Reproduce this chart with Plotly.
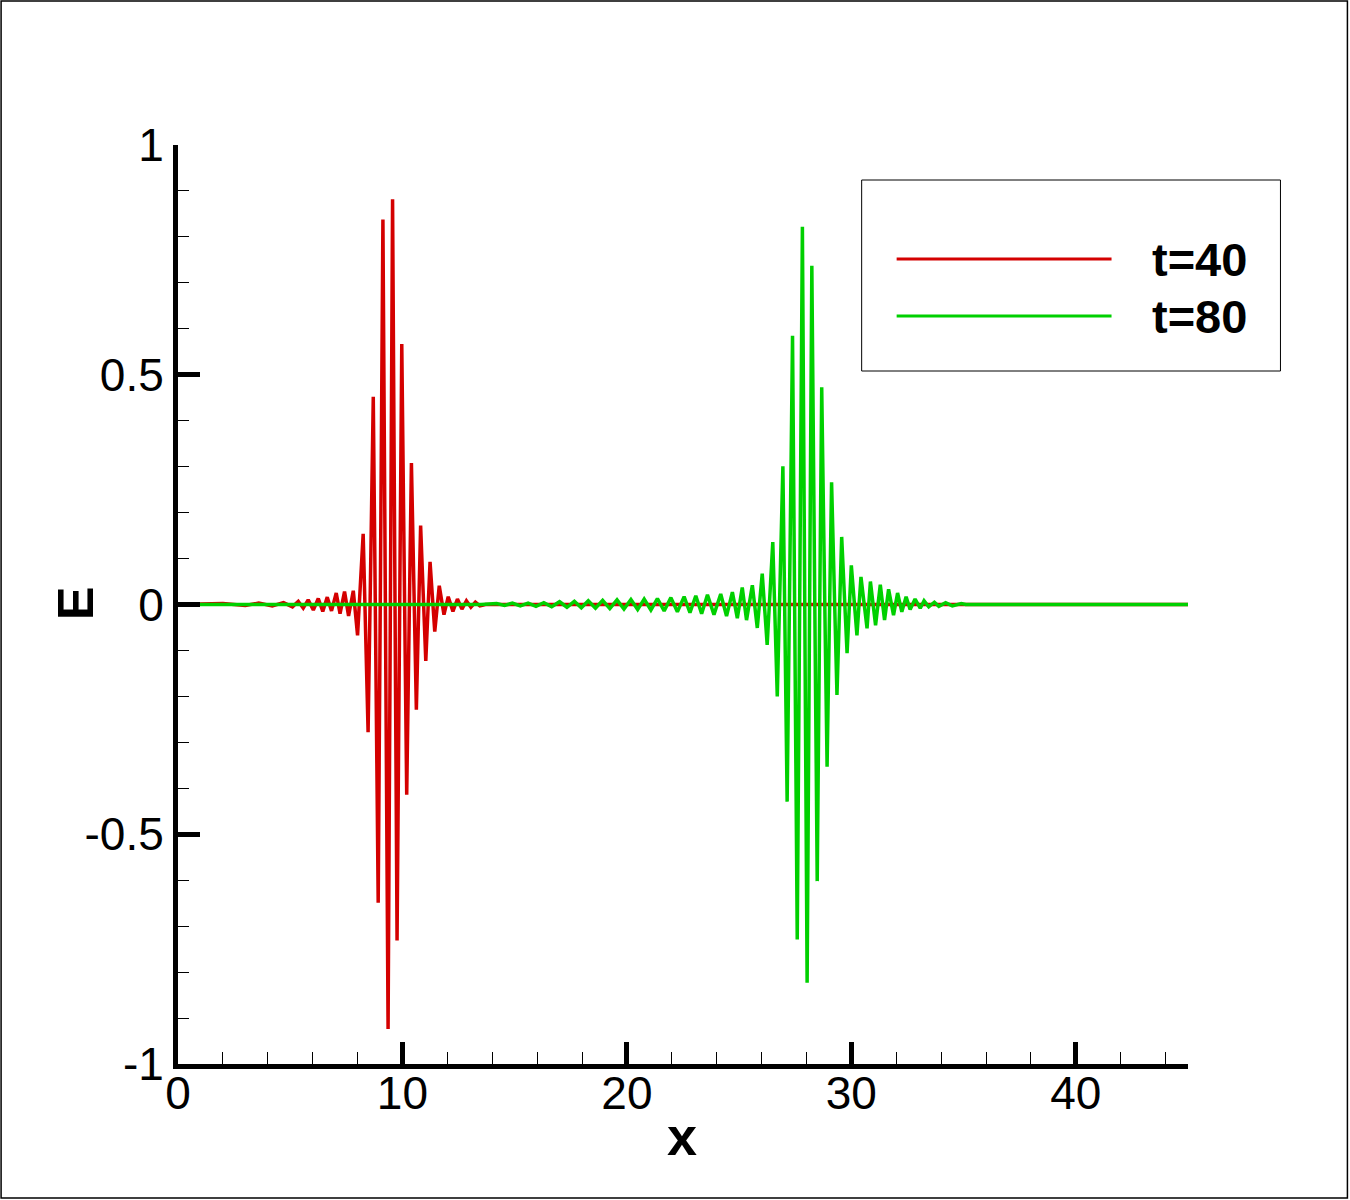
import plotly.graph_objects as go

# ---- data ----
red_x = [0.0, 2.0, 3.0, 3.6, 4.2, 4.7, 5.1, 5.36, 5.58, 5.8, 6.03, 6.25, 6.45, 6.65, 6.84,
         7.05, 7.22, 7.42, 7.60, 7.81, 8.00, 8.25, 8.47, 8.70, 8.92, 9.13, 9.36, 9.56, 9.76,
         9.97, 10.19, 10.40, 10.62, 10.81, 11.04, 11.23, 11.44, 11.64, 11.85, 12.04, 12.25,
         12.45, 12.65, 12.85, 13.05, 13.25, 13.45, 13.7, 45.0]
red_y = [0.0, 0.002, -0.002, 0.003, -0.003, 0.004, -0.005, 0.007, -0.008, 0.010, -0.012, 0.013,
         -0.015, 0.016, -0.014, 0.025, -0.020, 0.028, -0.025, 0.030, -0.067, 0.154, -0.278,
         0.452, -0.649, 0.838, -0.924, 0.882, -0.731, 0.567, -0.414, 0.308, -0.229, 0.172,
         -0.123, 0.093, -0.059, 0.041, -0.022, 0.017, -0.015, 0.012, -0.010, 0.008, -0.006,
         0.005, -0.003, 0.0, 0.0]

green_x = [0.0, 13.5, 14.2, 14.55, 14.9, 15.25, 15.6, 15.95, 16.3, 16.65, 17.0, 17.33, 17.66,
           17.97, 18.28, 18.6, 18.92, 19.24, 19.56, 19.87, 20.18, 20.48, 20.77, 21.07, 21.36,
           21.66, 21.96, 22.25, 22.55, 22.81, 23.07, 23.33, 23.59, 23.88, 24.18, 24.44, 24.70,
           24.92, 25.14, 25.33, 25.59, 25.81, 26.03, 26.25, 26.50, 26.70, 26.95, 27.14, 27.38,
           27.59, 27.82, 28.03, 28.24, 28.48, 28.68, 28.92, 29.12, 29.36, 29.57, 29.81, 30.00,
           30.25, 30.43, 30.70, 30.85, 31.08, 31.29, 31.48, 31.66, 31.88, 32.06, 32.25, 32.44,
           32.62, 32.84, 33.07, 33.24, 33.45, 33.7, 33.9, 34.2, 34.5, 34.9, 35.1, 45.0]
green_y = [0.0, 0.0, 0.002, -0.002, 0.003, -0.003, 0.003, -0.004, 0.004, -0.005, 0.006, -0.006,
           0.007, -0.007, 0.008, -0.008, 0.009, -0.009, 0.010, -0.010, 0.011, -0.011, 0.012,
           -0.012, 0.013, -0.014, 0.015, -0.016, 0.017, -0.018, 0.019, -0.020, 0.021, -0.022,
           0.023, -0.025, 0.027, -0.030, 0.037, -0.034, 0.042, -0.051, 0.067, -0.088, 0.136,
           -0.200, 0.301, -0.429, 0.585, -0.729, 0.822, -0.823, 0.737, -0.602, 0.473, -0.353,
           0.266, -0.197, 0.147, -0.106, 0.085, -0.067, 0.060, -0.052, 0.050, -0.045, 0.043,
           -0.034, 0.033, -0.023, 0.025, -0.016, 0.017, -0.011, 0.012, -0.008, 0.008, -0.005,
           0.005, -0.004, 0.004, -0.003, 0.002, 0.0, 0.0]

series_names = ["t=40", "t=80"]
series_colors = ["#D40000", "#00D000"]

x_ticks = [0, 10, 20, 30, 40]
y_ticks = [-1, -0.5, 0, 0.5, 1]
y_tick_text = ["-1", "-0.5", "0", "0.5", "1"]

# ---- layout geometry (pixels) ----
W, H = 1350, 1200
L, R, T, B = 178, 1188.5, 145, 1064
pw, ph = R - L, B - T


def px(xp):
    return (xp - L) / pw


def py(yp):
    return (B - yp) / ph


FONT = "Liberation Sans, Arial, sans-serif"

fig = go.Figure()
fig.add_trace(go.Scatter(x=red_x, y=red_y, mode="lines", name=series_names[0],
                         line=dict(color=series_colors[0], width=3.5), showlegend=False))
fig.add_trace(go.Scatter(x=green_x, y=green_y, mode="lines", name=series_names[1],
                         line=dict(color=series_colors[1], width=3.5), showlegend=False))

axis_common = dict(showgrid=False, zeroline=False, showline=True, linewidth=5, linecolor="black",
                   ticks="inside", ticklen=22, tickwidth=5, tickcolor="black",
                   tickfont=dict(family=FONT, size=46, color="black"))

fig.update_xaxes(range=[0, 45], tickvals=x_ticks, ticktext=[str(v) for v in x_ticks],
                 minor=dict(ticks="inside", dtick=2, ticklen=12, tickwidth=1, tickcolor="black"),
                 ticklabelstandoff=-15, **axis_common)
fig.update_yaxes(range=[-1, 1], tickvals=y_ticks, ticktext=y_tick_text,
                 minor=dict(ticks="inside", dtick=0.1, ticklen=11, tickwidth=1, tickcolor="black"),
                 **axis_common)

shapes = []
# outer frame of the picture
shapes.append(dict(type="rect", xref="paper", yref="paper", x0=px(1), x1=px(1348), y0=py(1198), y1=py(1),
                   line=dict(color="black", width=1.5), fillcolor="rgba(0,0,0,0)"))
# legend box
shapes.append(dict(type="rect", xref="paper", yref="paper", x0=px(862), x1=px(1281), y0=py(371), y1=py(180),
                   line=dict(color="black", width=1), fillcolor="white", layer="above"))
legend_rows = [259, 316]
annotations = []
for name, color, yrow in zip(series_names, series_colors, legend_rows):
    shapes.append(dict(type="line", xref="paper", yref="paper", x0=px(897), x1=px(1112), y0=py(yrow), y1=py(yrow),
                       line=dict(color=color, width=3), layer="above"))
    annotations.append(dict(xref="paper", yref="paper", x=px(1150), y=py(yrow), xanchor="left", yanchor="middle",
                            text="<b>" + name + "</b>", showarrow=False,
                            font=dict(family=FONT, size=47, color="black")))

# axis titles
annotations.append(dict(xref="paper", yref="paper", x=px(682), y=py(1136), xanchor="center", yanchor="middle",
                        text="<b>x</b>", showarrow=False, font=dict(family=FONT, size=54, color="black")))
annotations.append(dict(xref="paper", yref="paper", x=px(76), y=py(604), xanchor="center", yanchor="middle",
                        text="<b>E</b>", textangle=-90, showarrow=False,
                        font=dict(family=FONT, size=50, color="black")))

fig.update_layout(width=W, height=H, margin=dict(l=L, r=W - R, t=T, b=H - B),
                  paper_bgcolor="white", plot_bgcolor="white", shapes=shapes, annotations=annotations,
                  showlegend=False)

fig.write_html("out.html")
